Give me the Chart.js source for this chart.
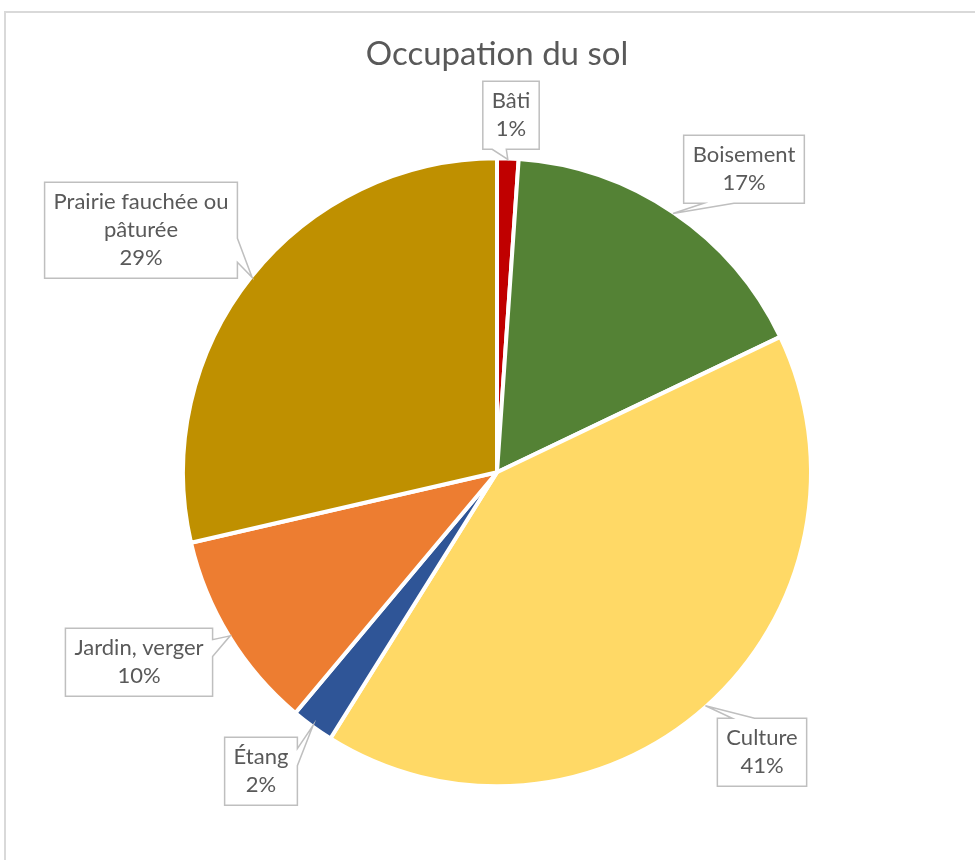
<!DOCTYPE html>
<html lang="fr">
<head>
<meta charset="utf-8">
<title>Occupation du sol</title>
<script src="https://cdn.jsdelivr.net/npm/chart.js@4.4.1/dist/chart.umd.min.js"></script>
<style>
  html, body { margin: 0; padding: 0; background: #fff; overflow: hidden; }
  #frame { position: absolute; left: 4px; top: 11px; width: 2000px; height: 2000px; border: 2px solid #d9d9d9; }
  #wrap { position: absolute; left: 0; top: 0; width: 975px; height: 860px; }
</style>
</head>
<body>
<div id="frame"></div>
<div id="wrap"><canvas id="solChart"></canvas></div>
<script>
// Occupation du sol (% de la surface)
const categories = ['Bâti', 'Boisement', 'Culture', 'Étang', 'Jardin, verger', 'Prairie fauchée ou pâturée'];
const surfaces = [1.1, 16.8, 41.0, 2.2, 10.3, 28.6];
const sliceColors = ['#C00000', '#548235', '#FFD966', '#2F5597', '#ED7D31', '#BF9000'];
// category names as they wrap inside the callouts
const labelLines = [['Bâti'], ['Boisement'], ['Culture'], ['Étang'], ['Jardin, verger'], ['Prairie fauchée ou', 'pâturée']];
// callout box centres, relative to the pie centre (px)
const calloutOffsets = [[14, -357], [247, -303], [265, 280], [-236, 299], [-358, 190], [-356, -242]];

const calloutPlugin = {
    id: 'callouts',
    afterDatasetsDraw(chart) {
        const ctx = chart.ctx;
        const meta = chart.getDatasetMeta(0);
        const total = surfaces.reduce((a, b) => a + b, 0);
        const lh = 28, padX = 9, padY = 6;

        ctx.save();
        ctx.font = '22px Lato';
        meta.data.forEach((arc, i) => {
            const { x, y, startAngle, endAngle, outerRadius } =
                arc.getProps(['x', 'y', 'startAngle', 'endAngle', 'outerRadius'], true);
            const mid = (startAngle + endAngle) / 2;
            const tipX = x + Math.cos(mid) * (outerRadius - 1);
            const tipY = y + Math.sin(mid) * (outerRadius - 1);

            const lines = labelLines[i].concat([Math.round(surfaces[i] / total * 100) + '%']);
            const w = Math.max(...lines.map(t => ctx.measureText(t).width)) + padX * 2;
            const h = lines.length * lh + padY * 2;
            const cx = x + calloutOffsets[i][0];
            const cy = y + calloutOffsets[i][1];
            const l = cx - w / 2, t = cy - h / 2, r = cx + w / 2, b = cy + h / 2;

            // wedge placement like an office "wedgeRectCallout"
            const dx = tipX - cx, dy = tipY - cy;
            const vertical = Math.abs(dy) - Math.abs(dx * h / w) > 0;
            const x1 = l + w * (dx > 0 ? 7 : 2) / 12, x2 = l + w * (dx > 0 ? 10 : 5) / 12;
            const y1 = t + h * (dy > 0 ? 7 : 2) / 12, y2 = t + h * (dy > 0 ? 10 : 5) / 12;

            ctx.beginPath();
            ctx.moveTo(l, t);
            if (vertical && dy < 0) { ctx.lineTo(x1, t); ctx.lineTo(tipX, tipY); ctx.lineTo(x2, t); }
            ctx.lineTo(r, t);
            if (!vertical && dx > 0) { ctx.lineTo(r, y1); ctx.lineTo(tipX, tipY); ctx.lineTo(r, y2); }
            ctx.lineTo(r, b);
            if (vertical && dy > 0) { ctx.lineTo(x2, b); ctx.lineTo(tipX, tipY); ctx.lineTo(x1, b); }
            ctx.lineTo(l, b);
            if (!vertical && dx < 0) { ctx.lineTo(l, y2); ctx.lineTo(tipX, tipY); ctx.lineTo(l, y1); }
            ctx.closePath();
            ctx.fillStyle = '#ffffff';
            ctx.fill();
            ctx.lineWidth = 1.5;
            ctx.strokeStyle = '#bfbfbf';
            ctx.stroke();

            ctx.fillStyle = '#595959';
            ctx.textAlign = 'center';
            ctx.textBaseline = 'middle';
            lines.forEach((txt, k) => {
                ctx.fillText(txt, cx, t + padY + lh * (k + 0.5));
            });
        });
        ctx.restore();
    }
};

new Chart(document.getElementById('solChart'), {
    type: 'pie',
    data: {
        labels: categories,
        datasets: [{
            data: surfaces,
            backgroundColor: sliceColors,
            borderColor: '#ffffff',
            borderWidth: 4,
            radius: 314
        }]
    },
    options: {
        responsive: true,
        maintainAspectRatio: false,
        animation: false,
        layout: { padding: { top: 0, bottom: 10, left: 119, right: 100 } },
        plugins: {
            legend: { display: false },
            tooltip: { enabled: false },
            title: {
                display: true,
                text: 'Occupation du sol',
                color: '#595959',
                font: { family: 'Lato', size: 33, weight: 'normal', lineHeight: 1.2 },
                padding: { top: 35, bottom: 20 }
            }
        }
    },
    plugins: [calloutPlugin]
});
</script>
</body>
</html>
